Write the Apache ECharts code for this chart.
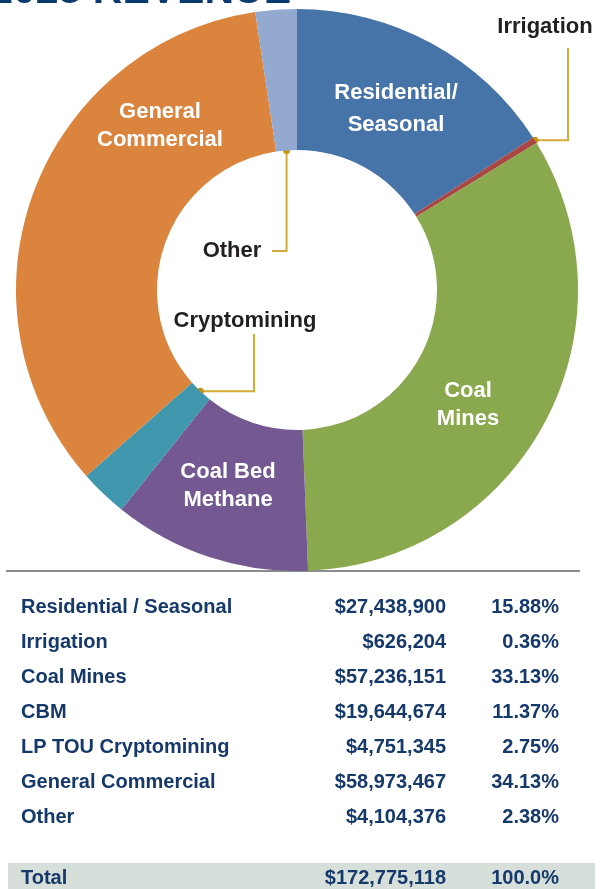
<!DOCTYPE html>
<html>
<head>
<meta charset="utf-8">
<script src="https://cdn.jsdelivr.net/npm/echarts@6/dist/echarts.min.js"></script>
<style>
  html, body { margin: 0; padding: 0; background: #fff; }
  #chart { width: 611px; height: 889px; }
</style>
</head>
<body>
<div id="chart"></div>
<script>
// --- data -------------------------------------------------------------------
const titleText = "2023 REVENUE";
const categories = ["Residential / Seasonal", "Irrigation", "Coal Mines", "CBM", "LP TOU Cryptomining", "General Commercial", "Other"];
const sliceLabels = ["Residential/\nSeasonal", "Irrigation", "Coal\nMines", "Coal Bed\nMethane", "Cryptomining", "General\nCommercial", "Other"];
const revenue = [27438900, 626204, 57236151, 19644674, 4751345, 58973467, 4104376];
const shares = ["15.88%", "0.36%", "33.13%", "11.37%", "2.75%", "34.13%", "2.38%"];
const totalLabel = "Total";
const totalRevenue = 172775118;
const totalShare = "100.0%";

// --- style ------------------------------------------------------------------
const sliceColors = ["#4673a8", "#a94744", "#8aa84e", "#735891", "#4198ae", "#db843e", "#93a9d0"];
const FONT = "'Liberation Sans', Arial, Helvetica, sans-serif";
const NAVY = "#15396a";
const GOLD = "#d6aa36";
const GOLD_DOT = "#c8960c";

// label anchors (centre of each label) and how the label is drawn
const labelSpots = [
  { x: 396, y: 109, inside: true, lh: 32 },
  { x: 545, y: 27, inside: false },
  { x: 468, y: 405, inside: true, lh: 28 },
  { x: 228, y: 486, inside: true, lh: 28 },
  { x: 245, y: 321, inside: false },
  { x: 160, y: 126, inside: true, lh: 28 },
  { x: 232, y: 251, inside: false }
];

const money = (v) => "$" + new Intl.NumberFormat("en-US").format(v);

const chart = echarts.init(document.getElementById("chart"), null, { renderer: "canvas" });

function tableGraphics() {
  const els = [];
  const rowTop = 607, rowStep = 35;
  // grey rule under the chart
  els.push({ type: "line", shape: { x1: 6, y1: 571, x2: 580, y2: 571 }, style: { stroke: "#8c8c8c", lineWidth: 2 } });
  const cell = (text, x, y, align) => ({
    type: "text", x, y,
    style: { text, fill: NAVY, font: `bold 20px ${FONT}`, align, verticalAlign: "middle" }
  });
  categories.forEach((c, i) => {
    const y = rowTop + i * rowStep;
    els.push(cell(c, 21, y, "left"));
    els.push(cell(money(revenue[i]), 446, y, "right"));
    els.push(cell(shares[i], 559, y, "right"));
  });
  els.push({ type: "rect", shape: { x: 8, y: 863, width: 587, height: 30 }, style: { fill: "#d6dfd9" } });
  els.push(cell(totalLabel, 21, 878, "left"));
  els.push(cell(money(totalRevenue), 446, 878, "right"));
  els.push(cell(totalShare, 559, 878, "right"));
  // title, cut by the top edge
  els.push({
    type: "text", x: 291, y: -8,
    style: { text: titleText, fill: "#0b3a6f", font: `bold 41px ${FONT}`, align: "right", verticalAlign: "middle" }
  });
  return els;
}

chart.setOption({
  animation: false,
  series: [{
    type: "pie",
    center: [297, 290],
    radius: [140, 281],
    startAngle: 90,
    clockwise: true,
    avoidLabelOverlap: false,
    silent: true,
    emphasis: { disabled: true },
    labelLine: { show: false },
    label: {
      show: true,
      position: "inside",
      fontFamily: FONT,
      fontWeight: "bold",
      fontSize: 22,
      align: "center",
      verticalAlign: "middle"
    },
    labelLayout: (p) => {
      const s = labelSpots[p.dataIndex];
      return { x: s.x, y: s.y, align: "center", verticalAlign: "middle" };
    },
    data: revenue.map((v, i) => ({
      value: v,
      name: categories[i],
      itemStyle: { color: sliceColors[i], borderWidth: 0 },
      label: {
        formatter: sliceLabels[i],
        color: labelSpots[i].inside ? "#ffffff" : "#231f20",
        lineHeight: labelSpots[i].lh || 26
      }
    }))
  }],
  graphic: tableGraphics()
});

// leader lines with dots, from the slices the library laid out
function leaderGraphics() {
  const data = chart.getModel().getSeriesByIndex(0).getData();
  const at = (i, useInner) => {
    const l = data.getItemLayout(i);
    const a = (l.startAngle + l.endAngle) / 2;
    const r = useInner ? l.r0 : l.r;
    return [l.cx + r * Math.cos(a), l.cy + r * Math.sin(a)];
  };
  const els = [];
  const add = (pts, dot) => {
    els.push({ type: "polyline", shape: { points: pts }, style: { stroke: GOLD, lineWidth: 2, fill: null } });
    els.push({ type: "circle", shape: { cx: dot[0], cy: dot[1], r: 3.5 }, style: { fill: GOLD_DOT } });
  };
  const irr = at(1, false);
  add([irr, [568, irr[1]], [568, 48]], irr);
  const oth = at(6, true);
  add([oth, [oth[0], 251], [272, 251]], oth);
  const cry = at(4, true);
  add([cry, [254, cry[1]], [254, 334]], cry);
  return els;
}

chart.setOption({ graphic: tableGraphics().concat(leaderGraphics()) });
</script>
</body>
</html>
